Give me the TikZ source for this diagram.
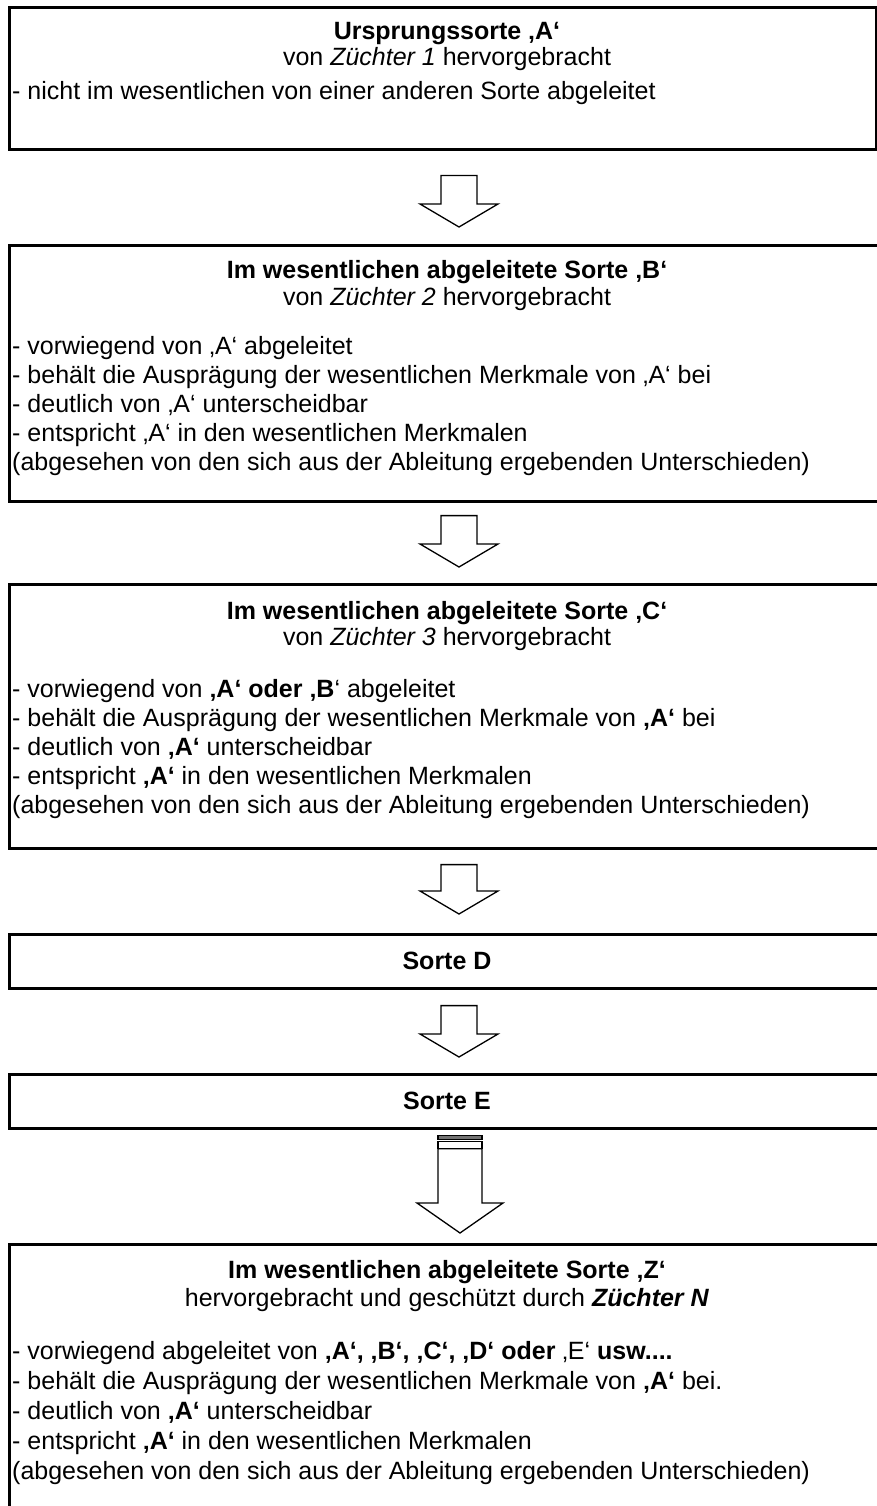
\documentclass[tikz,border=0pt]{standalone}
\usepackage{fontspec}
\setmainfont{Liberation Sans}
\usetikzlibrary{calc}
\newcommand\bodysize{\fontsize{25}{29}\selectfont}
\newcommand\dnarrow[5]{\draw[arrowline] let \p1=(#1),\p2=(#2) in
  (\x1-#3,\y1) -- (\x1+#3,\y1) -- (\x1+#3,\y2+#5) -- (\x1+#4,\y2+#5) -- (\x2,\y2)
  -- (\x1-#4,\y2+#5) -- (\x1-#3,\y2+#5) -- cycle;}
\begin{document}
\begin{tikzpicture}[x=1pt,y=-1pt,
  box/.style={draw=black, line width=2.6pt, anchor=north west, inner sep=0pt},
  arrowline/.style={draw=black, line width=1.3pt, fill=white, line join=miter},
  ttl/.style={anchor=base, inner sep=0pt, font=\bodysize\bfseries},
  subl/.style={anchor=base, inner sep=0pt, font=\bodysize},
  iteml/.style={anchor=base west, inner sep=0pt, font=\bodysize}]
\useasboundingbox (0,0) rectangle (877,1506);
\fill[white] (0,0) rectangle (877,1506);
% boxes
\node[box, minimum width=867pt, minimum height=142pt] (b1) at (8,6) {};
\node[box, minimum width=878pt, minimum height=256pt] (b2) at (8,244) {};
\node[box, minimum width=878pt, minimum height=264pt] (b3) at (8,583) {};
\node[box, minimum width=878pt, minimum height=54pt] (bD) at (8,933) {};
\node[box, minimum width=878pt, minimum height=54pt] (bE) at (8,1073) {};
\node[box, minimum width=878pt, minimum height=300pt] (bZ) at (8,1243) {};
% box 1
\node[ttl] (t1) at (447,40) {Ursprungssorte ‚A‘};
\node[subl] (s1) at (447,66) {von \textit{Züchter 1} hervorgebracht};
\node[iteml] (i11) at (12,100) {- nicht im wesentlichen von einer anderen Sorte abgeleitet};
% box 2
\node[ttl] (t2) at (447,278) {Im wesentlichen abgeleitete Sorte ‚B‘};
\node[subl] (s2) at (447,305) {von \textit{Züchter 2} hervorgebracht};
\node[iteml] (i21) at (12,354) {- vorwiegend von ‚A‘ abgeleitet};
\node[iteml] (i22) at (12,383) {- behält die Ausprägung der wesentlichen Merkmale von ‚A‘ bei};
\node[iteml] (i23) at (12,412) {- deutlich von ‚A‘ unterscheidbar};
\node[iteml] (i24) at (12,441) {- entspricht ‚A‘ in den wesentlichen Merkmalen};
\node[iteml] (i25) at (12,470) {(abgesehen von den sich aus der Ableitung ergebenden Unterschieden)};
% box 3
\node[ttl] (t3) at (447,619) {Im wesentlichen abgeleitete Sorte ‚C‘};
\node[subl] (s3) at (447,645) {von \textit{Züchter 3} hervorgebracht};
\node[iteml] (i31) at (12,697) {- vorwiegend von \textbf{‚A‘ oder ‚B}‘ abgeleitet};
\node[iteml] (i32) at (12,726) {- behält die Ausprägung der wesentlichen Merkmale von \textbf{‚A‘} bei};
\node[iteml] (i33) at (12,755) {- deutlich von \textbf{‚A‘} unterscheidbar};
\node[iteml] (i34) at (12,784) {- entspricht \textbf{‚A‘} in den wesentlichen Merkmalen};
\node[iteml] (i35) at (12,813) {(abgesehen von den sich aus der Ableitung ergebenden Unterschieden)};
% D, E
\node[ttl] (tD) at (447,969) {Sorte D};
\node[ttl] (tE) at (447,1109) {Sorte E};
% box Z
\node[ttl] (tZ) at (447,1278) {Im wesentlichen abgeleitete Sorte ‚Z‘};
\node[subl] (sZ) at (447,1306) {hervorgebracht und geschützt durch \textbf{\textit{Züchter N}}};
\node[iteml] (iZ1) at (12,1359) {- vorwiegend abgeleitet von \textbf{‚A‘, ‚B‘, ‚C‘, ‚D‘ oder} ‚E‘ \textbf{usw....}};
\node[iteml] (iZ2) at (12,1389) {- behält die Ausprägung der wesentlichen Merkmale von \textbf{‚A‘} bei.};
\node[iteml] (iZ3) at (12,1419) {- deutlich von \textbf{‚A‘} unterscheidbar};
\node[iteml] (iZ4) at (12,1449) {- entspricht \textbf{‚A‘} in den wesentlichen Merkmalen};
\node[iteml] (iZ5) at (12,1479) {(abgesehen von den sich aus der Ableitung ergebenden Unterschieden)};
% arrows
\coordinate (a1s) at ($(b1.south west)+(451,25)$);
\coordinate (a1e) at ($(b2.north west)+(451,-17)$);
\coordinate (a2s) at ($(b2.south west)+(451,13)$);
\coordinate (a2e) at ($(b3.north west)+(451,-16)$);
\coordinate (a3s) at ($(b3.south west)+(451,15)$);
\coordinate (a3e) at ($(bD.north west)+(451,-19)$);
\coordinate (a4s) at ($(bD.south west)+(451,16)$);
\coordinate (a4e) at ($(bE.north west)+(451,-16)$);
\coordinate (a5s) at ($(bE.south west)+(452,19)$);
\coordinate (a5e) at ($(bZ.north west)+(452,-10)$);
\dnarrow{a1s}{a1e}{18pt}{39pt}{23pt}
\dnarrow{a2s}{a2e}{18pt}{39pt}{23pt}
\dnarrow{a3s}{a3e}{18pt}{39pt}{23pt}
\dnarrow{a4s}{a4e}{18pt}{39pt}{23pt}
\dnarrow{a5s}{a5e}{22pt}{43pt}{30pt}
\draw[line width=1.2pt, fill=black!55] ($(a5s)+(-22,-13)$) rectangle ($(a5s)+(22,-9)$);
\draw[line width=1.2pt, fill=white] ($(a5s)+(-22,-7)$) rectangle ($(a5s)+(22,0)$);
\end{tikzpicture}
\end{document}
